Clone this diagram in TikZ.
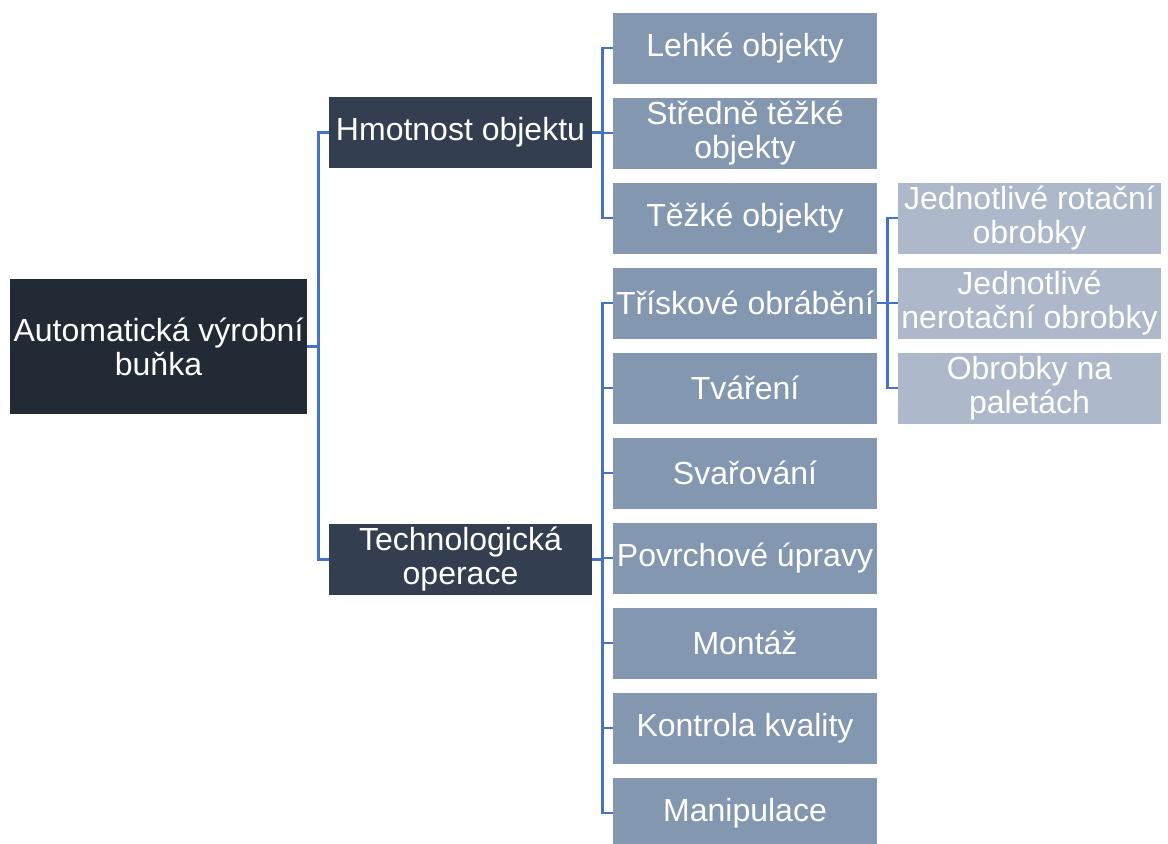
\documentclass[tikz,border=0pt]{standalone}
\usepackage{fontspec}
\setmainfont{Liberation Sans}
\usepackage{tikz}

\definecolor{rootcol}{HTML}{222A35}
\definecolor{groupcol}{HTML}{333F50}
\definecolor{itemcol}{HTML}{8497B0}
\definecolor{piececol}{HTML}{ADB9CA}
\definecolor{linkcol}{HTML}{4472C4}

\tikzset{
    box/.style={rectangle, inner sep=0pt, align=center, text=white,
        font=\fontsize{16}{17}\selectfont},
    rootbox/.style={box, fill=rootcol, minimum width=148.5pt, minimum height=67.5pt},
    groupbox/.style={box, fill=groupcol, minimum width=131.5pt, minimum height=35.5pt},
    itembox/.style={box, fill=itemcol, minimum width=132pt, minimum height=35.5pt},
    piecebox/.style={box, fill=piececol, minimum width=131.5pt, minimum height=35.5pt},
    link/.style={draw=linkcol, line width=1.2pt}
}

\begin{document}
\begin{tikzpicture}[x=0.5pt, y=-0.5pt]
    \useasboundingbox (0,0) rectangle (1168,843);
    % Root
    \node[rootbox] (Root) at (158.5,346.5) {Automatická výrobní\\buňka};
    % Groups
    \foreach \name/\i/\y in {{Hmotnost objektu}/1/132.5, {Technologická\\operace}/2/559.5} {
        \node[groupbox] (Group-\i) at (460.5,\y) {\name};
    }
    % Weight classes
    \foreach \name/\i in {{Lehké objekty}/1, {Středně těžké\\objekty}/2, {Těžké objekty}/3} {
        \node[itembox] (Weight-\i) at (745,{-37+85*\i}) {\name};
    }
    % Operations
    \foreach \name/\i in {{Třískové obrábění}/1, {Tváření}/2, {Svařování}/3,
        {Povrchové úpravy}/4, {Montáž}/5, {Kontrola kvality}/6, {Manipulace}/7} {
        \node[itembox] (Oper-\i) at (745,{218+85*\i}) {\name};
    }
    % Workpieces
    \foreach \name/\i in {{Jednotlivé rotační\\obrobky}/1, {Jednotlivé\\nerotační obrobky}/2,
        {Obrobky na\\paletách}/3} {
        \node[piecebox] (Piece-\i) at (1029.5,{133+85*\i}) {\name};
    }
    % Connectors
    \foreach \i in {1,2} {
        \draw[link] (Root.east) -- ++(11,0) |- (Group-\i.west);
    }
    \foreach \i in {1,2,3} {
        \draw[link] (Group-1.east) -- ++(10,0) |- (Weight-\i.west);
    }
    \foreach \i in {1,...,7} {
        \draw[link] (Group-2.east) -- ++(10,0) |- (Oper-\i.west);
    }
    \foreach \i in {1,2,3} {
        \draw[link] (Oper-1.east) -- ++(10,0) |- (Piece-\i.west);
    }
\end{tikzpicture}
\end{document}
